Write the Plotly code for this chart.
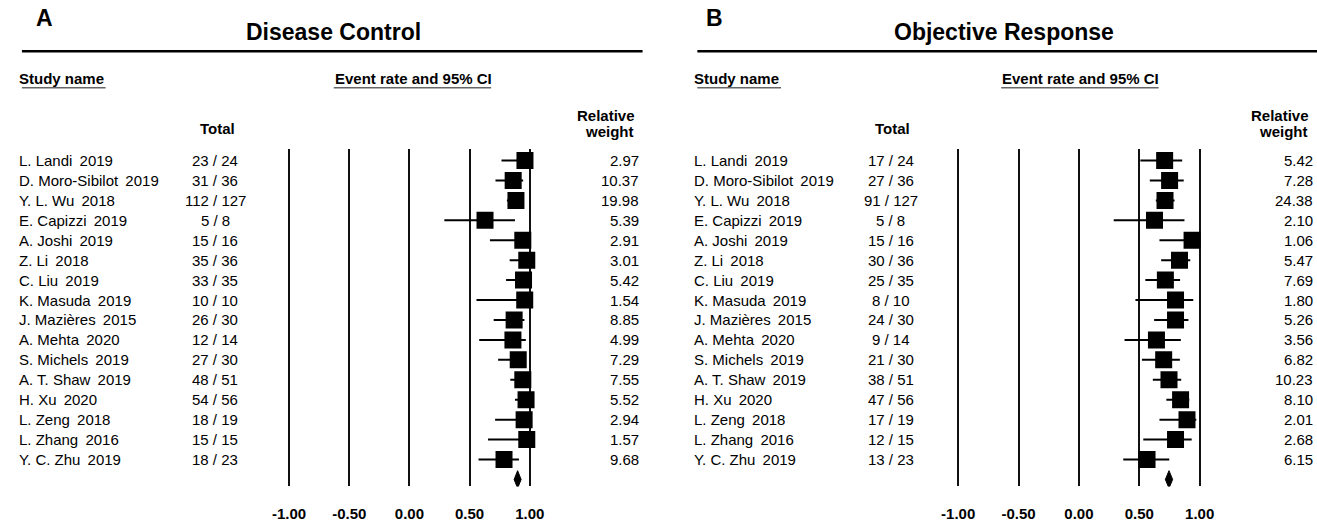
import plotly.graph_objects as go

# ---------------- data ----------------
studies = ["L. Landi  2019", "D. Moro-Sibilot  2019", "Y. L. Wu  2018", "E. Capizzi  2019",
           "A. Joshi  2019", "Z. Li  2018", "C. Liu  2019", "K. Masuda  2019",
           "J. Mazières  2015", "A. Mehta  2020", "S. Michels  2019", "A. T. Shaw  2019",
           "H. Xu  2020", "L. Zeng  2018", "L. Zhang  2016", "Y. C. Zhu  2019"]

dc_total = ["23 / 24", "31 / 36", "112 / 127", "5 / 8", "15 / 16", "35 / 36", "33 / 35", "10 / 10",
            "26 / 30", "12 / 14", "27 / 30", "48 / 51", "54 / 56", "18 / 19", "15 / 15", "18 / 23"]
dc_weight = ["2.97", "10.37", "19.98", "5.39", "2.91", "3.01", "5.42", "1.54",
             "8.85", "4.99", "7.29", "7.55", "5.52", "2.94", "1.57", "9.68"]
dc_rate = [0.960, 0.862, 0.885, 0.628, 0.942, 0.975, 0.948, 0.958,
           0.870, 0.860, 0.904, 0.942, 0.969, 0.953, 0.975, 0.786]
dc_lower = [0.765, 0.715, 0.810, 0.290, 0.669, 0.833, 0.803, 0.557,
            0.700, 0.580, 0.737, 0.838, 0.877, 0.712, 0.653, 0.574]
dc_upper = [0.995, 0.945, 0.930, 0.877, 0.990, 0.996, 0.986, 0.997,
            0.956, 0.967, 0.965, 0.980, 0.990, 0.990, 0.998, 0.910]
dc_pooled = [0.870, 0.899, 0.928]   # lower, estimate, upper

or_total = ["17 / 24", "27 / 36", "91 / 127", "5 / 8", "15 / 16", "30 / 36", "25 / 35", "8 / 10",
            "24 / 30", "9 / 14", "21 / 30", "38 / 51", "47 / 56", "17 / 19", "12 / 15", "13 / 23"]
or_weight = ["5.42", "7.28", "24.38", "2.10", "1.06", "5.47", "7.69", "1.80",
             "5.26", "3.56", "6.82", "10.23", "8.10", "2.01", "2.68", "6.15"]
or_rate = [0.710, 0.751, 0.713, 0.626, 0.937, 0.833, 0.716, 0.800,
           0.800, 0.642, 0.702, 0.746, 0.842, 0.895, 0.800, 0.564]
or_lower = [0.509, 0.587, 0.637, 0.288, 0.667, 0.681, 0.550, 0.468,
            0.623, 0.378, 0.522, 0.612, 0.724, 0.667, 0.533, 0.367]
or_upper = [0.855, 0.868, 0.792, 0.874, 0.990, 0.922, 0.838, 0.947,
            0.907, 0.844, 0.836, 0.847, 0.914, 0.972, 0.934, 0.748]
or_pooled = [0.716, 0.746, 0.776]

tick_vals = [-1.0, -0.5, 0.0, 0.5, 1.0]
tick_text = ["-1.00", "-0.50", "0.00", "0.50", "1.00"]

# ---------------- layout helpers ----------------
W, H = 1317, 522
FONT = "Liberation Sans, Arial, sans-serif"
rows = list(range(len(studies)))
pooled_row = len(studies)


def px(x):
    return x / W


def py(y):
    return 1 - y / H


fig = go.Figure()


def add_panel(rate, lower, upper, pooled, xa):
    fig.add_trace(go.Scatter(
        x=rate, y=rows, mode="markers", xaxis=xa, yaxis="y",
        marker=dict(symbol="square", size=17, color="black", line=dict(width=0)),
        error_x=dict(type="data", symmetric=False,
                     array=[u - r for u, r in zip(upper, rate)],
                     arrayminus=[r - l for r, l in zip(rate, lower)],
                     color="black", thickness=2, width=0),
        showlegend=False, hoverinfo="skip"))
    lo, est, hi = pooled
    h = 0.44
    fig.add_trace(go.Scatter(
        x=[lo, est, hi, est, lo], y=[pooled_row, pooled_row - h, pooled_row, pooled_row + h, pooled_row],
        xaxis=xa, yaxis="y", mode="lines", fill="toself", fillcolor="black",
        line=dict(color="black", width=1), showlegend=False, hoverinfo="skip"))


add_panel(dc_rate, dc_lower, dc_upper, dc_pooled, "x")
add_panel(or_rate, or_lower, or_upper, or_pooled, "x2")

xaxis_common = dict(range=[-1.1, 1.15], tickvals=tick_vals, ticktext=tick_text,
                    showgrid=True, gridcolor="#111111", gridwidth=2, zeroline=False,
                    showline=False, ticks="outside", ticklen=14, tickcolor="rgba(0,0,0,0)",
                    tickfont=dict(family=FONT, size=15, color="black", weight="bold"),
                    fixedrange=True)

fig.update_layout(
    width=W, height=H, margin=dict(l=0, r=0, t=0, b=0),
    paper_bgcolor="white", plot_bgcolor="white",
    xaxis=dict(domain=[px(273.1), px(544.9)], anchor="y", **xaxis_common),
    xaxis2=dict(domain=[px(944.7), px(1217.4)], anchor="y", **xaxis_common),
    yaxis=dict(domain=[py(494), py(151)], range=[16.35, -0.593], visible=False, fixedrange=True),
)

ann = []
shapes = []


def text(x, y, s, size=15, bold=False, anchor="left", yref="paper"):
    ann.append(dict(x=x, y=y, xref="paper", yref=yref, text=s, showarrow=False,
                    xanchor=anchor, yanchor="middle",
                    font=dict(family=FONT, size=size, color="black",
                              weight="bold" if bold else "normal")))


panels = [
    dict(letter="A", lx=40, title="Disease Control", tx=330, x0=17, x1=640,
         name_x=17, tot_x=211, w_x=637, ev_x=410, total=dc_total, weight=dc_weight),
    dict(letter="B", lx=712, title="Objective Response", tx=1003, x0=695, x1=1317,
         name_x=695, tot_x=889, w_x=1314, ev_x=1080, total=or_total, weight=or_weight),
]

for p in panels:
    text(px(p["lx"]), py(18), p["letter"], size=23, bold=True, anchor="center")
    text(px(p["tx"]), py(33), p["title"], size=23, bold=True, anchor="center")
    shapes.append(dict(type="line", xref="paper", yref="paper", x0=px(p["x0"]), x1=px(p["x1"]),
                       y0=py(52), y1=py(52), line=dict(color="black", width=2.5)))
    text(px(p["name_x"] - 5), py(80), "Study name", size=15, bold=True, anchor="left")
    shapes.append(dict(type="line", xref="paper", yref="paper", x0=px(p["name_x"]),
                       x1=px(p["name_x"] + 84), y0=py(89), y1=py(89),
                       line=dict(color="#666", width=1.5)))
    text(px(p["ev_x"]), py(80), "Event rate and 95% CI", size=15, bold=True, anchor="center")
    shapes.append(dict(type="line", xref="paper", yref="paper", x0=px(p["ev_x"] - 80),
                       x1=px(p["ev_x"] + 78), y0=py(89), y1=py(89),
                       line=dict(color="#666", width=1.5)))
    text(px(p["tot_x"] + 2), py(131), "Total", size=15, bold=True, anchor="center")
    text(px(p["w_x"] - 3), py(117), "Relative", size=15, bold=True, anchor="right")
    text(px(p["w_x"] - 4), py(134), "weight", size=15, bold=True, anchor="right")
    for i, s in enumerate(studies):
        text(px(p["name_x"] - 5), i, s.replace("  ", " \u2009"), size=15, anchor="left", yref="y")
        text(px(p["tot_x"]), i, p["total"][i], size=15, anchor="center", yref="y")
        text(px(p["w_x"] + 1), i, p["weight"][i], size=15, anchor="right", yref="y")

fig.update_layout(annotations=ann, shapes=shapes)

fig.write_html("out.html", config={"displayModeBar": False},
               post_script="document.body.style.margin='0';")
